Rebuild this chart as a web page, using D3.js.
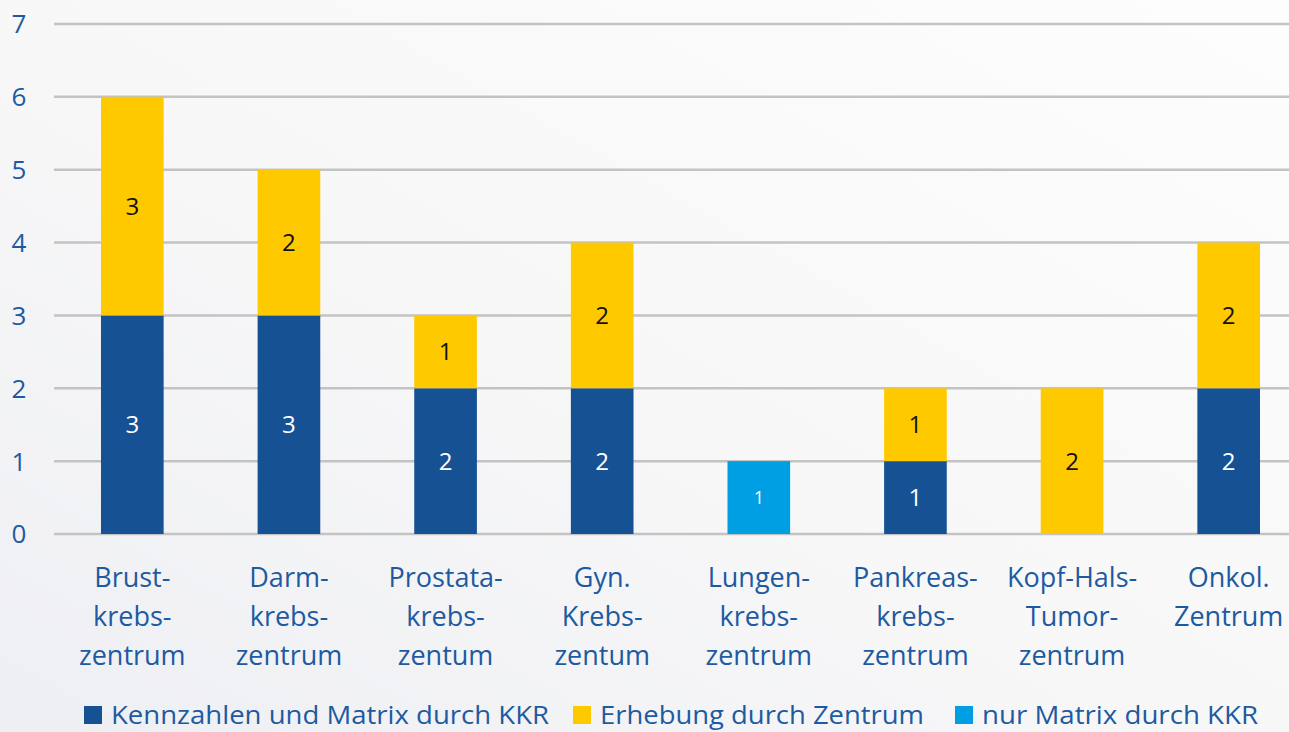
<!DOCTYPE html>
<html>
<head>
<meta charset="utf-8" />
<title>Zentren</title>
<style>
    body { margin: 0; background: #fff; }
    svg text { font-family: "Open Sans", "Noto Sans", sans-serif; }
</style>
</head>
<body>
<svg></svg>
<script src="https://d3js.org/d3.v7.min.js"></script>
<script>
    // Data
    const categories = [
        ["Brust-", "krebs-", "zentrum"],
        ["Darm-", "krebs-", "zentrum"],
        ["Prostata-", "krebs-", "zentum"],
        ["Gyn.", "Krebs-", "zentum"],
        ["Lungen-", "krebs-", "zentrum"],
        ["Pankreas-", "krebs-", "zentrum"],
        ["Kopf-Hals-", "Tumor-", "zentrum"],
        ["Onkol.", "Zentrum"]
    ];
    const seriesNames = ["Kennzahlen und Matrix durch KKR", "Erhebung durch Zentrum", "nur Matrix durch KKR"];
    const kennzahlen = [3, 3, 2, 2, 0, 1, 0, 2];
    const erhebung   = [3, 2, 1, 2, 0, 1, 2, 2];
    const nurMatrix  = [0, 0, 0, 0, 1, 0, 0, 0];
    const yTicks = [0, 1, 2, 3, 4, 5, 6, 7];

    const colors = ["#155193", "#ffc900", "#009fe3"];
    const labelColors = ["#ffffff", "#111111", "#ffffff"];

    let width = 1289, height = 732;
    let svg = d3.select("svg").attr("width", width).attr("height", height);

    // background
    let defs = svg.append("defs");
    let grad = defs.append("linearGradient").attr("id", "bg")
        .attr("x1", "0").attr("y1", "1").attr("x2", "1").attr("y2", "0");
    grad.append("stop").attr("offset", "0%").attr("stop-color", "#eeeff3");
    grad.append("stop").attr("offset", "45%").attr("stop-color", "#f7f7f8");
    grad.append("stop").attr("offset", "100%").attr("stop-color", "#fdfdfd");
    svg.append("rect").attr("width", width).attr("height", height).attr("fill", "url(#bg)");

    let x = d3.scaleBand()
        .domain(d3.range(categories.length))
        .range([54, 1307]);

    let y = d3.scaleLinear().domain([0, 7]).range([534, 24]);

    // gridlines
    svg.append("g").selectAll("line")
        .data(yTicks)
        .join("line")
        .attr("x1", 54).attr("x2", 1307)
        .attr("y1", d => y(d)).attr("y2", d => y(d))
        .attr("stroke", "#c3c3c3")
        .attr("stroke-width", 2.5);

    // y tick labels
    svg.append("g").selectAll("text")
        .data(yTicks)
        .join("text")
        .attr("x", 19)
        .attr("y", d => y(d))
        .attr("dy", "0.36em")
        .attr("text-anchor", "middle")
        .attr("fill", "#1d5aa1")
        .style("font-size", "26px")
        .text(d => d);

    // stacked data
    let rows = categories.map((c, i) => ({ i: i, k: kennzahlen[i], e: erhebung[i], n: nurMatrix[i] }));
    let stack = d3.stack().keys(["k", "e", "n"])(rows);

    let barW = x.bandwidth() * 0.4;
    let barOff = (x.bandwidth() - barW) / 2;

    let groups = svg.append("g").selectAll("g")
        .data(stack)
        .join("g")
        .attr("fill", (d, i) => colors[i]);

    groups.selectAll("rect")
        .data(d => d.filter(p => p[1] - p[0] > 0))
        .join("rect")
        .attr("x", d => x(d.data.i) + barOff)
        .attr("width", barW)
        .attr("y", d => y(d[1]))
        .attr("height", d => y(d[0]) - y(d[1]));

    // value labels
    stack.forEach((s, si) => {
        svg.append("g").selectAll("text")
            .data(s.filter(p => p[1] - p[0] > 0))
            .join("text")
            .attr("x", d => x(d.data.i) + x.bandwidth() / 2)
            .attr("y", d => (y(d[0]) + y(d[1])) / 2)
            .attr("dy", "0.36em")
            .attr("text-anchor", "middle")
            .attr("fill", labelColors[si])
            .style("font-size", si === 2 ? "18px" : "24px")
            .text(d => d[1] - d[0]);
    });

    // category labels
    let cat = svg.append("g").selectAll("text")
        .data(categories)
        .join("text")
        .attr("text-anchor", "middle")
        .attr("fill", "#1d5aa1")
        .style("font-size", "27px")
        .attr("x", (d, i) => x(i) + x.bandwidth() / 2);
    cat.selectAll("tspan")
        .data(d => d)
        .join("tspan")
        .attr("x", function () { return d3.select(this.parentNode).attr("x"); })
        .attr("y", (d, j) => 587 + j * 39)
        .text(d => d);

    // legend
    let legendX = [84, 573, 955];
    let legendW = [438, 324, 276];
    let leg = svg.append("g").selectAll("g")
        .data(seriesNames)
        .join("g")
        .attr("transform", (d, i) => "translate(" + legendX[i] + ",0)");
    leg.append("rect")
        .attr("x", 0).attr("y", 706)
        .attr("width", 18).attr("height", 18)
        .attr("fill", (d, i) => colors[i]);
    leg.append("text")
        .attr("x", 27).attr("y", 724)
        .attr("fill", "#1d5aa1")
        .attr("textLength", (d, i) => legendW[i])
        .attr("lengthAdjust", "spacingAndGlyphs")
        .style("font-size", "26px")
        .text(d => d);
</script>
</body>
</html>
